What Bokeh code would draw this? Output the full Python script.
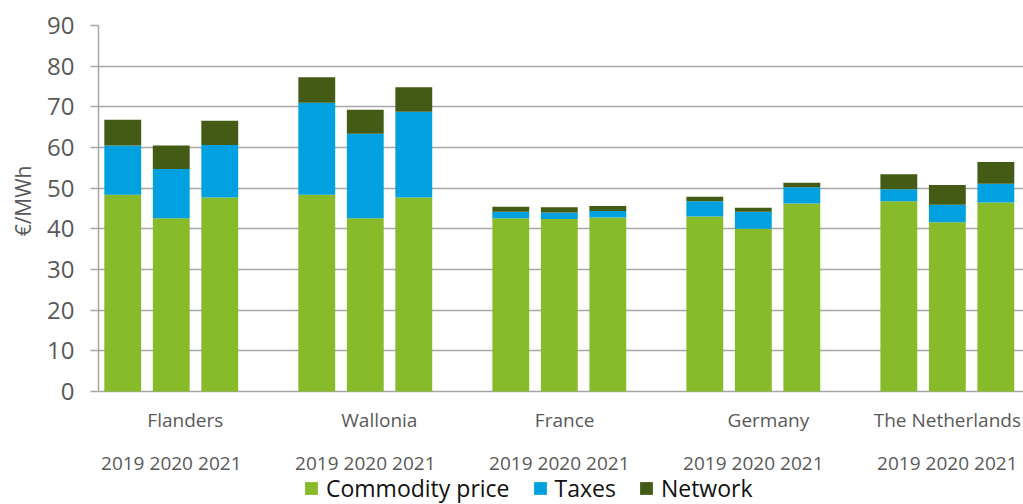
from bokeh.plotting import figure
from bokeh.models import ColumnDataSource, FixedTicker, Legend, LegendItem, Range1d, Title
from bokeh.core.properties import value
from bokeh.embed import file_html
from bokeh.resources import INLINE

regions = ["Flanders", "Wallonia", "France", "Germany", "The Netherlands"]
years = ["2019", "2020", "2021"]
commodity = [48.4, 42.6, 47.7, 48.4, 42.6, 47.7, 42.6, 42.4, 42.8, 43.0, 40.0, 46.2, 46.8, 41.6, 46.5]
taxes = [12.1, 12.1, 12.9, 22.6, 20.8, 21.1, 1.6, 1.6, 1.6, 3.8, 4.2, 4.0, 2.9, 4.3, 4.6]
network = [6.3, 5.8, 6.0, 6.3, 5.9, 6.0, 1.2, 1.3, 1.2, 1.1, 1.0, 1.1, 3.7, 4.9, 5.3]
y_ticks = list(range(0, 91, 10))

C_COM = "#87BB29"
C_TAX = "#00A1DE"
C_NET = "#445B15"
GRID = "#a6a6a6"
TXT = "#595959"
FONT = "Open Sans"

# label rows below the zero line (in value units) and label nudges (in slot units)
REGION_ROW = -6.9
YEAR_ROW = -17.7
region_nudge = [0.29, 0.29, 0.11, 0.31, 0.0]

xs = [4 * g + i + 0.5 for g in range(len(regions)) for i in range(len(years))]
src = ColumnDataSource(dict(x=xs, commodity=commodity, taxes=taxes, network=network))

p = figure(width=1023, height=504, x_range=Range1d(0, 19.07), y_range=Range1d(-27.8, 90),
           output_backend="svg", toolbar_location=None, x_axis_location=None,
           min_border_left=98, min_border_top=25, min_border_right=0, min_border_bottom=0)
p.outline_line_color = None
p.xgrid.visible = False
p.ygrid.grid_line_color = GRID
p.ygrid.grid_line_width = 1.5
p.ygrid.ticker = FixedTicker(ticks=y_ticks)

rs = p.vbar_stack(["commodity", "taxes", "network"], x="x", width=0.76, source=src,
                  color=[C_COM, C_TAX, C_NET], line_color=None)

ya = p.yaxis[0]
ya.bounds = (0, 90)
ya.ticker = FixedTicker(ticks=y_ticks)
ya.axis_line_color = GRID
ya.axis_line_width = 1.5
ya.major_tick_line_color = GRID
ya.major_tick_line_width = 1.5
ya.major_tick_out = 8
ya.major_tick_in = 0
ya.minor_tick_line_color = None
ya.major_label_standoff = 16
ya.major_label_text_font = FONT
ya.major_label_text_font_size = "24px"
ya.major_label_text_color = TXT

ytitle = Title(text="€/MWh", align="right", offset=140, vertical_align="middle",
               text_font=FONT, text_font_size="21px", text_font_style="normal",
               text_color=TXT, standoff=14)
p.add_layout(ytitle, "left")

reg_x = [4 * g + 1.5 + n for g, n in zip(range(len(regions)), region_nudge)]
p.text(x=reg_x, y=[REGION_ROW] * len(regions), text=regions,
       text_align="center", text_baseline="middle",
       text_font=value(FONT), text_font_size="19px", text_color=TXT)

year_labels = [years[i] for g in range(len(regions)) for i in range(len(years))]
p.text(x=xs, y=[YEAR_ROW] * len(xs), text=year_labels,
       text_align="center", text_baseline="middle",
       text_font=value(FONT), text_font_size="19px", text_color=TXT)

legend = Legend(items=[LegendItem(label="Commodity price", renderers=[rs[0]]),
                       LegendItem(label="Taxes", renderers=[rs[1]]),
                       LegendItem(label="Network", renderers=[rs[2]])],
                location=(205, 0), orientation="horizontal")
legend.padding = 0
legend.margin = 0
legend.spacing = 22
legend.glyph_width = 16
legend.glyph_height = 16
legend.label_standoff = 7
legend.label_text_font = FONT
legend.label_text_font_size = "23px"
legend.label_text_color = "#111111"
legend.border_line_color = None
legend.background_fill_alpha = 0
p.add_layout(legend)

open("out.html", "w").write(file_html(p, INLINE))
